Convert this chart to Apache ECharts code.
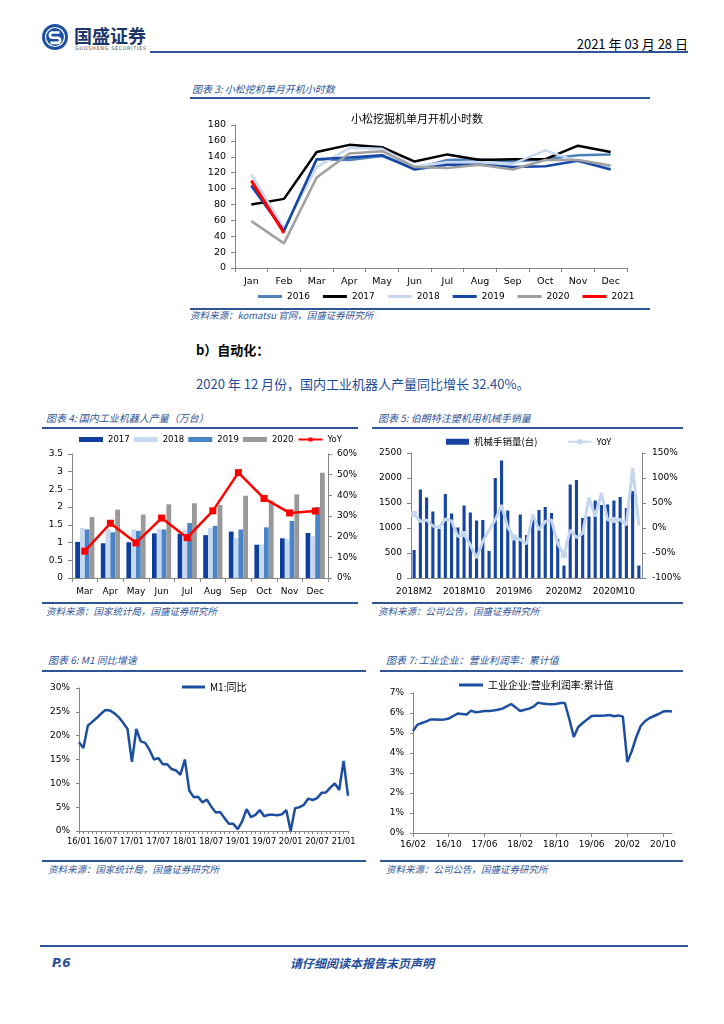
<!DOCTYPE html>
<html><head><meta charset="utf-8">
<script src="https://cdn.jsdelivr.net/npm/echarts@6/dist/echarts.min.js"></script>
<style>
body{margin:0;background:#fff;}
#page{position:relative;width:724px;height:1024px;overflow:hidden;background:#fff;font-family:"Noto Sans CJK SC","DejaVu Sans",sans-serif;}
.t{position:absolute;white-space:nowrap;line-height:1;}
.cap{font-size:10px;font-style:italic;color:#2f5597;}
.src{font-size:9.5px;font-style:italic;color:#2f5597;}
.hl{position:absolute;height:2px;background:#2f5597;}
.ch{position:absolute;}
</style></head><body><div id="page">
<svg class="ch" style="left:41px;top:23px" width="28" height="28" viewBox="0 0 28 28">
<circle cx="14" cy="14" r="13" fill="#1d4f9f"/>
<circle cx="14" cy="14" r="9.5" fill="none" stroke="#fff" stroke-width="1.2"/>
<path d="M18.5 9.5 H11.5 a2.6 2.6 0 0 0 0 5.2 h5 a2.6 2.6 0 0 1 0 5.2 H9.5" stroke="#fff" stroke-width="2.6" fill="none"/>
</svg>
<div class="t" style="left:74px;top:26px;font-size:18px;font-weight:bold;color:#1c3668;">国盛证券</div>
<div class="t" style="left:75px;top:46px;font-size:5px;letter-spacing:0.6px;color:#555;font-family:'DejaVu Sans';">GUOSHENG SECURITIES</div>
<div class="t" style="right:36px;top:37px;font-size:13px;color:#000;">2021 年 03 月 28 日</div>
<div class="hl" style="left:150px;top:51px;width:538px;"></div>

<div class="t cap" style="left:192px;top:84px;">图表 3: 小松挖机单月开机小时数</div>
<div class="hl" style="left:190px;top:97px;width:460px;"></div>
<div id="c3" class="ch" style="left:190px;top:100px;width:460px;height:207px;"></div>
<div class="hl" style="left:190px;top:308px;width:460px;"></div>
<div class="t src" style="left:190px;top:311px;">资料来源：komatsu 官网，国盛证券研究所</div>

<div class="t" style="left:196px;top:343px;font-size:13px;font-weight:bold;color:#000;">b）自动化：</div>
<div class="t" style="left:196px;top:377px;font-size:13px;color:#1f4e9a;">2020 年 12 月份，国内工业机器人产量同比增长 32.40%。</div>

<div class="t cap" style="left:46px;top:413px;">图表 4: 国内工业机器人产量（万台）</div>
<div class="hl" style="left:42px;top:427px;width:316px;"></div>
<div id="c4" class="ch" style="left:40px;top:430px;width:325px;height:170px;"></div>
<div class="hl" style="left:42px;top:602px;width:316px;"></div>
<div class="t src" style="left:46px;top:607px;">资料来源：国家统计局，国盛证券研究所</div>

<div class="t cap" style="left:378px;top:413px;">图表 5: 伯朗特注塑机用机械手销量</div>
<div class="hl" style="left:372px;top:427px;width:311px;"></div>
<div id="c5" class="ch" style="left:370px;top:430px;width:320px;height:170px;"></div>
<div class="hl" style="left:372px;top:602px;width:311px;"></div>
<div class="t src" style="left:378px;top:607px;">资料来源：公司公告，国盛证券研究所</div>

<div class="t cap" style="left:48px;top:655px;">图表 6: M1 同比增速</div>
<div class="hl" style="left:42px;top:670px;width:324px;"></div>
<div id="c6" class="ch" style="left:40px;top:673px;width:330px;height:185px;"></div>
<div class="hl" style="left:42px;top:860px;width:324px;"></div>
<div class="t src" style="left:48px;top:865px;">资料来源：国家统计局，国盛证券研究所</div>

<div class="t cap" style="left:386px;top:655px;">图表 7: 工业企业：营业利润率：累计值</div>
<div class="hl" style="left:380px;top:670px;width:303px;"></div>
<div id="c7" class="ch" style="left:375px;top:673px;width:310px;height:185px;"></div>
<div class="hl" style="left:380px;top:860px;width:303px;"></div>
<div class="t src" style="left:386px;top:865px;">资料来源：公司公告，国盛证券研究所</div>

<div class="hl" style="left:40px;top:945px;width:648px;"></div>
<div class="t" style="left:52px;top:957px;font-size:12px;font-weight:bold;font-style:italic;color:#1f4e9a;font-family:'DejaVu Sans';">P.6</div>
<div class="t" style="left:290px;top:957px;font-size:12px;font-weight:bold;font-style:italic;color:#1f4e9a;">请仔细阅读本报告末页声明</div>
</div>
<script>
// ---- Figure 3 data ----
const months3 = ['Jan','Feb','Mar','Apr','May','Jun','Jul','Aug','Sep','Oct','Nov','Dec'];
const hours2016 = [103,47,137,136,141,125,136,137,134,137,142,143];
const hours2017 = [80,87,146,155,152,134,143,136,137,137,154,146];
const hours2018 = [118,50,127,151,150,128,133,133,131,148,134,127];
const hours2019 = [104,47,137,139,142,124,130,130,127,128,135,124];
const hours2020 = [59,31,114,144,147,127,126,130,124,136,136,129];
const hours2021 = [110,44];
// ---- Figure 4 data ----
const months4 = ['Mar','Apr','May','Jun','Jul','Aug','Sep','Oct','Nov','Dec'];
const robot2017 = [1.02,0.98,1.01,1.26,1.25,1.21,1.31,0.94,1.12,1.27];
const robot2018 = [1.41,1.38,1.37,1.39,1.37,1.41,1.13,0.95,1.10,1.18];
const robot2019 = [1.37,1.29,1.33,1.37,1.55,1.47,1.37,1.43,1.61,2.00];
const robot2020 = [1.72,1.93,1.79,2.08,2.11,2.06,2.32,2.18,2.36,2.97];
const robotYoY = [13,26.5,17,29,19.5,32.5,51,38.5,31.5,32.4];
// ---- Figure 5 data ----
const months5 = ['2018M2','2018M3','2018M4','2018M5','2018M6','2018M7','2018M8','2018M9','2018M10','2018M11','2018M12',
 '2019M1','2019M2','2019M3','2019M4','2019M5','2019M6','2019M7','2019M8','2019M9','2019M10','2019M11','2019M12',
 '2020M1','2020M2','2020M3','2020M4','2020M5','2020M6','2020M7','2020M8','2020M9','2020M10','2020M11','2020M12',
 '2021M1','2021M2'];
const armSales = [560,1770,1610,1330,980,1680,1290,1010,1450,1310,1150,1160,540,2000,2350,1350,760,1270,860,1260,1360,1420,1300,780,250,1870,1960,1200,1230,1550,1460,1470,1550,1620,1400,1740,250];
const armYoY = [28,13,16,4,1,18,14,-17,-12,-34,-60,-27,-4,16,46,1,-19,-23,-32,27,-4,13,16,-31,-54,-4,-19,-11,61,23,70,16,16,17,6,120,5];
// ---- Figure 6 data ----
const months6 = ['16/01','16/02','16/03','16/04','16/05','16/06','16/07','16/08','16/09','16/10','16/11','16/12',
 '17/01','17/02','17/03','17/04','17/05','17/06','17/07','17/08','17/09','17/10','17/11','17/12',
 '18/01','18/02','18/03','18/04','18/05','18/06','18/07','18/08','18/09','18/10','18/11','18/12',
 '19/01','19/02','19/03','19/04','19/05','19/06','19/07','19/08','19/09','19/10','19/11','19/12',
 '20/01','20/02','20/03','20/04','20/05','20/06','20/07','20/08','20/09','20/10','20/11','20/12',
 '21/01','21/02'];
const m1YoY = [18.6,17.4,22.1,22.9,23.7,24.6,25.4,25.3,24.7,23.9,22.7,21.4,
 14.5,21.4,18.8,18.5,17.0,15.0,15.3,14.0,14.0,13.0,12.7,11.8,
 15.0,8.5,7.1,7.2,6.0,6.6,5.1,3.9,4.0,2.7,1.5,1.5,
 0.4,2.0,4.6,2.9,3.4,4.4,3.1,3.4,3.4,3.3,3.5,4.4,
 0.0,4.8,5.0,5.5,6.8,6.5,6.9,8.0,8.1,9.1,10.0,8.6,
 14.7,7.4];
// ---- Figure 7 data ----
const months7 = ['16/02','16/03','16/04','16/05','16/06','16/07','16/08','16/09','16/10','16/11','16/12',
 '17/01','17/02','17/03','17/04','17/05','17/06','17/07','17/08','17/09','17/10','17/11','17/12',
 '18/01','18/02','18/03','18/04','18/05','18/06','18/07','18/08','18/09','18/10','18/11','18/12',
 '19/01','19/02','19/03','19/04','19/05','19/06','19/07','19/08','19/09','19/10','19/11','19/12',
 '20/01','20/02','20/03','20/04','20/05','20/06','20/07','20/08','20/09','20/10','20/11','20/12'];
const profitMargin = [5.1,5.42,5.5,5.58,5.68,5.68,5.66,5.68,5.72,5.85,5.97,
 5.95,5.92,6.12,6.04,6.06,6.1,6.1,6.12,6.16,6.22,6.33,6.45,
 6.28,6.1,6.16,6.22,6.32,6.52,6.47,6.45,6.44,6.45,6.5,6.5,
 5.7,4.8,5.3,5.5,5.68,5.85,5.86,5.86,5.87,5.9,5.84,5.88,
 5.82,3.55,4.1,4.8,5.35,5.6,5.75,5.85,5.95,6.07,6.1,6.07];

const AX = '#868686';
const NUMF = 'DejaVu Sans';
const LBL = {color:'#000', fontFamily:NUMF, fontSize:9};
const axLine = {show:true, lineStyle:{color:AX, width:1}};
const tick = (len)=>({show:true, length:len, lineStyle:{color:AX}});
const plain = (v)=>String(v);

function mk(id, opt){ const c = echarts.init(document.getElementById(id), null, {renderer:'canvas'}); opt.animation=false; c.setOption(opt); }

mk('c3', {
  title:{text:'小松挖掘机单月开机小时数', left:222, top:8, textAlign:'center',
    textStyle:{fontSize:11, fontWeight:'normal', color:'#000', fontFamily:'Noto Sans CJK SC'}},
  grid:{left:45, top:25, width:392, height:143},
  legend:{left:68, top:192, padding:0, itemWidth:24, itemHeight:3, itemGap:13, icon:'rect',
    textStyle:{color:'#000', fontFamily:NUMF, fontSize:9},
    data:['2016','2017','2018','2019','2020','2021']},
  xAxis:{type:'category', data:months3, axisLine:axLine, axisTick:tick(4),
    axisLabel:Object.assign({margin:9, interval:0}, LBL, {fontSize:9.5})},
  yAxis:{type:'value', min:0, max:180, interval:20, splitLine:{show:false}, axisLine:axLine, axisTick:tick(4),
    axisLabel:Object.assign({margin:9, formatter:plain}, LBL, {fontSize:9.5})},
  series:[
    {name:'2016', type:'line', data:hours2016, symbol:'none', lineStyle:{width:2.5, color:'#4f81bd'}, itemStyle:{color:'#4f81bd'}},
    {name:'2017', type:'line', data:hours2017, symbol:'none', lineStyle:{width:2.5, color:'#000'}, itemStyle:{color:'#000'}},
    {name:'2018', type:'line', data:hours2018, symbol:'none', lineStyle:{width:2.5, color:'#c6d9f1'}, itemStyle:{color:'#c6d9f1'}},
    {name:'2019', type:'line', data:hours2019, symbol:'none', lineStyle:{width:2.5, color:'#1747a6'}, itemStyle:{color:'#1747a6'}},
    {name:'2020', type:'line', data:hours2020, symbol:'none', lineStyle:{width:2.5, color:'#a0a0a0'}, itemStyle:{color:'#a0a0a0'}},
    {name:'2021', type:'line', data:hours2021, symbol:'none', lineStyle:{width:3, color:'#ff0000'}, itemStyle:{color:'#ff0000'}}
  ]
});

mk('c4', {
  grid:{left:32, top:24, width:256, height:124},
  legend:{left:39, top:5, padding:0, itemWidth:24, itemHeight:5, itemGap:4,
    textStyle:{color:'#000', fontFamily:NUMF, fontSize:8.5},
    data:[{name:'2017',icon:'rect'},{name:'2018',icon:'rect'},{name:'2019',icon:'rect'},{name:'2020',icon:'rect'},{name:'YoY'}]},
  xAxis:{type:'category', data:months4, axisLine:axLine, axisTick:tick(4),
    axisLabel:Object.assign({margin:9, interval:0}, LBL)},
  yAxis:[
    {type:'value', min:0, max:3.5, interval:0.5, splitLine:{show:false}, axisLine:axLine, axisTick:tick(4),
      axisLabel:Object.assign({margin:9, formatter:plain}, LBL)},
    {type:'value', min:0, max:60, interval:10, position:'right', splitLine:{show:false}, axisLine:axLine, axisTick:tick(4),
      axisLabel:Object.assign({margin:9, formatter:'{value}%'}, LBL)}
  ],
  series:[
    {name:'2017', type:'bar', data:robot2017, barGap:'0%', barCategoryGap:'25%', itemStyle:{color:'#0f3f9e'}},
    {name:'2018', type:'bar', data:robot2018, itemStyle:{color:'#c6d9f1'}},
    {name:'2019', type:'bar', data:robot2019, itemStyle:{color:'#4a84c8'}},
    {name:'2020', type:'bar', data:robot2020, itemStyle:{color:'#999999'}},
    {name:'YoY', type:'line', yAxisIndex:1, data:robotYoY, symbol:'rect', symbolSize:7,
      lineStyle:{width:2.5, color:'#ff0000'}, itemStyle:{color:'#ff0000'}}
  ]
});

mk('c5', {
  grid:{left:41, top:23, width:231, height:125},
  legend:{left:76, top:7, padding:0, itemWidth:23, itemHeight:6, itemGap:30,
    textStyle:{color:'#000', fontFamily:'Noto Sans CJK SC', fontSize:9.5},
    data:[{name:'机械手销量(台)',icon:'rect'},{name:'YoY'}]},
  xAxis:{type:'category', data:months5, axisLine:axLine, axisTick:{show:false},
    axisLabel:Object.assign({margin:9, interval:7}, LBL)},
  yAxis:[
    {type:'value', min:0, max:2500, interval:500, splitLine:{show:false}, axisLine:axLine, axisTick:tick(4),
      axisLabel:Object.assign({margin:9, formatter:plain}, LBL)},
    {type:'value', min:-100, max:150, interval:50, position:'right', splitLine:{show:false}, axisLine:axLine, axisTick:tick(4),
      axisLabel:Object.assign({margin:10, formatter:'{value}%'}, LBL)}
  ],
  series:[
    {name:'机械手销量(台)', type:'bar', data:armSales, barWidth:'50%', itemStyle:{color:'#1544a3'}},
    {name:'YoY', type:'line', yAxisIndex:1, data:armYoY, symbol:'rect', symbolSize:6,
      lineStyle:{width:3, color:'#c5d7ee'}, itemStyle:{color:'#c5d7ee'}}
  ]
});

mk('c6', {
  grid:{left:39, top:15, width:269, height:143},
  legend:{left:142, top:9, padding:0, itemWidth:23, itemHeight:3, icon:'rect',
    textStyle:{color:'#000', fontFamily:'Noto Sans CJK SC', fontSize:10}, data:['M1:同比']},
  xAxis:{type:'category', data:months6, boundaryGap:false, axisLine:axLine,
    axisTick:{show:true, interval:0, length:3, lineStyle:{color:AX}},
    axisLabel:Object.assign({margin:7, interval:5}, LBL, {fontSize:8.3})},
  yAxis:{type:'value', min:0, max:30, interval:5, splitLine:{show:false}, axisLine:axLine, axisTick:tick(3),
    axisLabel:Object.assign({margin:9, formatter:'{value}%'}, LBL)},
  series:[{name:'M1:同比', type:'line', data:m1YoY, symbol:'none', lineStyle:{width:2.5, color:'#1c4fa0'}, itemStyle:{color:'#1c4fa0'}}]
});

mk('c7', {
  grid:{left:38, top:20, width:259, height:140},
  legend:{left:84, top:7, padding:0, itemWidth:24, itemHeight:3, icon:'rect',
    textStyle:{color:'#000', fontFamily:'Noto Sans CJK SC', fontSize:10}, data:['工业企业:营业利润率:累计值']},
  xAxis:{type:'category', data:months7, boundaryGap:false, axisLine:axLine,
    axisTick:{show:true, interval:7, length:4, lineStyle:{color:AX}},
    axisLabel:Object.assign({margin:7, interval:7}, LBL)},
  yAxis:{type:'value', min:0, max:7, interval:1, splitLine:{show:false}, axisLine:axLine, axisTick:tick(3),
    axisLabel:Object.assign({margin:9, formatter:'{value}%'}, LBL)},
  series:[{name:'工业企业:营业利润率:累计值', type:'line', data:profitMargin, symbol:'none', lineStyle:{width:2.5, color:'#1c4fa0'}, itemStyle:{color:'#1c4fa0'}}]
});
</script>
</body></html>
